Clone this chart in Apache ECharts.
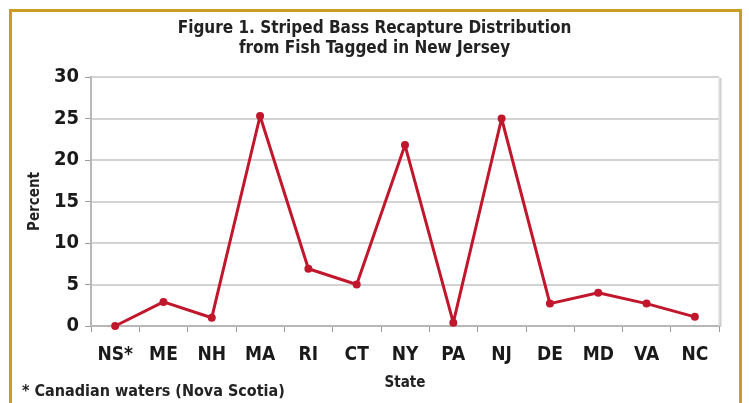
<!DOCTYPE html>
<html><head><meta charset="utf-8">
<script src="https://cdn.jsdelivr.net/npm/echarts@6/dist/echarts.min.js"></script>
<style>
html,body{margin:0;padding:0;background:#fff;}
#c{width:749px;height:403px;}
</style></head>
<body><div id="c"></div>
<script>
const states = ["NS*","ME","NH","MA","RI","CT","NY","PA","NJ","DE","MD","VA","NC"];
const percent = [0, 2.9, 1.0, 25.3, 6.9, 5.0, 21.8, 0.4, 25.0, 2.7, 4.0, 2.7, 1.1];
const titleLines = "Figure 1. Striped Bass Recapture Distribution\nfrom Fish Tagged in New Jersey";
const footnote = "* Canadian waters (Nova Scotia)";

const FONT = '"Liberation Sans Narrow","DejaVu Sans Condensed",Arial,sans-serif';
const chart = echarts.init(document.getElementById('c'), null, {renderer:'canvas'});
chart.setOption({
  animation:false,
  backgroundColor:'#fff',
  graphic:[
    {type:'rect', shape:{x:10.5,y:10.5,width:730,height:420}, style:{fill:'none',stroke:'#c89c26',lineWidth:3}, z:0},
    {type:'rect', shape:{x:91,y:77,width:628,height:249}, style:{fill:'none',stroke:'#d4d4d4',lineWidth:1}, z:1},
    {type:'line', shape:{x1:720.5,y1:78,x2:720.5,y2:327}, style:{stroke:'#cfcfcf',lineWidth:2}, z:1},
    {type:'text', left:22, top:384, style:{text:footnote, font:'bold 16px '+FONT, fill:'#222'}}
  ],
  title:{
    text:titleLines, left:'center', top:14,
    textStyle:{fontFamily:FONT, fontWeight:'bold', fontSize:17, lineHeight:20, color:'#222'}
  },
  grid:{left:91, right:30, top:77, bottom:77},
  xAxis:{
    type:'category', data:states, boundaryGap:true,
    name:'State', nameLocation:'middle', nameGap:50,
    nameTextStyle:{fontFamily:FONT, fontWeight:'bold', fontSize:15, color:'#222'},
    axisLine:{lineStyle:{color:'#9a9a9a', width:2}},
    axisTick:{show:true, length:6, lineStyle:{color:'#9a9a9a', width:1}},
    axisLabel:{fontFamily:FONT, fontWeight:'bold', fontSize:19, color:'#1a1a1a', margin:20}
  },
  yAxis:{
    type:'value', min:0, max:30, interval:5,
    name:'Percent', nameLocation:'middle', nameGap:48, nameRotate:90,
    nameTextStyle:{fontFamily:FONT, fontWeight:'bold', fontSize:15, color:'#222'},
    axisLine:{show:true, lineStyle:{color:'#9a9a9a', width:2}},
    axisTick:{show:true, length:6, lineStyle:{color:'#9a9a9a'}},
    axisLabel:{fontFamily:FONT, fontWeight:'bold', fontSize:20, color:'#1a1a1a', margin:12},
    splitLine:{lineStyle:{color:'#c4c4c4', width:1.5}}
  },
  series:[{
    type:'line', data:percent,
    symbol:'circle', symbolSize:8,
    lineStyle:{color:'#c1172c', width:3},
    itemStyle:{color:'#c1172c'},
    z:5
  }]
});
</script>
</body></html>
